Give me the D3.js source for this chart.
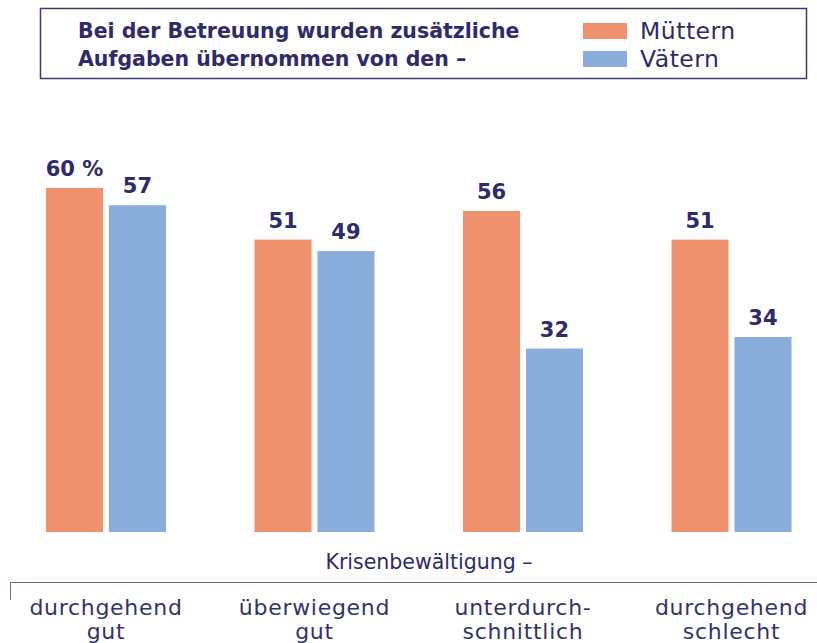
<!DOCTYPE html>
<html>
<head>
<meta charset="utf-8">
<script src="https://cdn.jsdelivr.net/npm/d3@7"></script>
<style>
  body { margin: 0; background: #fff; }
  svg { display: block; font-family: "DejaVu Sans", sans-serif; }
</style>
</head>
<body>
<div class="viewport"></div>
<script>
var categories = [["durchgehend", "gut"], ["überwiegend", "gut"], ["unterdurch-", "schnittlich"], ["durchgehend", "schlecht"]];
var series = ["Müttern", "Vätern"];
var muetter = [60, 51, 56, 51];
var vaeter = [57, 49, 32, 34];
var valueLabels = [["60 %", "57"], ["51", "49"], ["56", "32"], ["51", "34"]];
var titleLines = ["Bei der Betreuung wurden zusätzliche", "Aufgaben übernommen von den –"];
var axisTitle = "Krisenbewältigung –";

function letsGo() {

    var width = 817,
        height = 643,
        navy = "#2e2a6b",
        colors = ["#f0916f", "#8aaddb"];

    var svg = d3.select(".viewport").append("svg")
        .attr("width", width)
        .attr("height", height);

    // legend / title box
    svg.append("rect")
        .attr("x", 40.5).attr("y", 8.5)
        .attr("width", 766).attr("height", 70)
        .attr("fill", "none")
        .attr("stroke", "#3c3a78")
        .attr("stroke-width", 1.5);

    svg.selectAll("text.title").data(titleLines).enter()
        .append("text")
        .attr("class", "title")
        .attr("x", 78)
        .attr("y", function(d, i) { return 38 + i * 28; })
        .attr("fill", navy)
        .attr("font-size", 20.5)
        .attr("font-weight", "bold")
        .text(function(d) { return d; });

    var leg = svg.selectAll("g.leg").data(series).enter()
        .append("g")
        .attr("class", "leg")
        .attr("transform", function(d, i) { return "translate(583," + (23 + i * 28) + ")"; });

    leg.append("rect")
        .attr("width", 44).attr("height", 16)
        .attr("fill", function(d, i) { return colors[i]; });

    leg.append("text")
        .attr("x", 57).attr("y", 16)
        .attr("fill", navy)
        .attr("font-size", 23.5)
        .attr("letter-spacing", 0.5)
        .text(function(d) { return d; });

    // scales
    var x0 = d3.scaleBand()
        .domain(d3.range(categories.length))
        .range([46, 791.5])
        .paddingInner(0.4245)
        .paddingOuter(0);

    var x1 = d3.scaleBand()
        .domain(series)
        .range([0, x0.bandwidth()])
        .paddingInner(0.095);

    var y = d3.scaleLinear()
        .domain([0, 60])
        .range([532, 188]);

    var rows = categories.map(function(c, i) {
        return [
            { s: series[0], v: muetter[i], label: valueLabels[i][0] },
            { s: series[1], v: vaeter[i], label: valueLabels[i][1] }
        ];
    });

    var groups = svg.selectAll("g.group").data(rows).enter()
        .append("g")
        .attr("class", "group")
        .attr("transform", function(d, i) { return "translate(" + x0(i) + ",0)"; });

    groups.selectAll("rect").data(function(d) { return d; }).enter()
        .append("rect")
        .attr("x", function(d) { return x1(d.s); })
        .attr("y", function(d) { return y(d.v); })
        .attr("width", x1.bandwidth())
        .attr("height", function(d) { return y(0) - y(d.v); })
        .attr("fill", function(d, i) { return colors[i]; });

    groups.selectAll("text").data(function(d) { return d; }).enter()
        .append("text")
        .attr("x", function(d) { return x1(d.s) + x1.bandwidth() / 2; })
        .attr("y", function(d) { return y(d.v) - 12; })
        .attr("text-anchor", "middle")
        .attr("fill", navy)
        .attr("font-size", 21)
        .attr("font-weight", "bold")
        .text(function(d) { return d.label; });

    // axis title and bracket
    svg.append("text")
        .attr("x", 429).attr("y", 569)
        .attr("text-anchor", "middle")
        .attr("fill", navy)
        .attr("font-size", 20.5)
        .text(axisTitle);

    svg.append("path")
        .attr("d", "M10.5,600 V582.5 H817")
        .attr("fill", "none")
        .attr("stroke", "#6a6a8e")
        .attr("stroke-width", 1);

    var cats = svg.selectAll("text.cat").data(categories).enter()
        .append("text")
        .attr("class", "cat")
        .attr("text-anchor", "middle")
        .attr("fill", "#33336b")
        .attr("font-size", 22)
        .attr("letter-spacing", 0.7)
        .attr("transform", function(d, i) { return "translate(" + (x0(i) + x0.bandwidth() / 2) + ",0)"; });

    cats.selectAll("tspan").data(function(d) { return d; }).enter()
        .append("tspan")
        .attr("x", 0)
        .attr("y", function(d, i) { return 615 + i * 24; })
        .text(function(d) { return d; });
}

letsGo();
</script>
</body>
</html>
